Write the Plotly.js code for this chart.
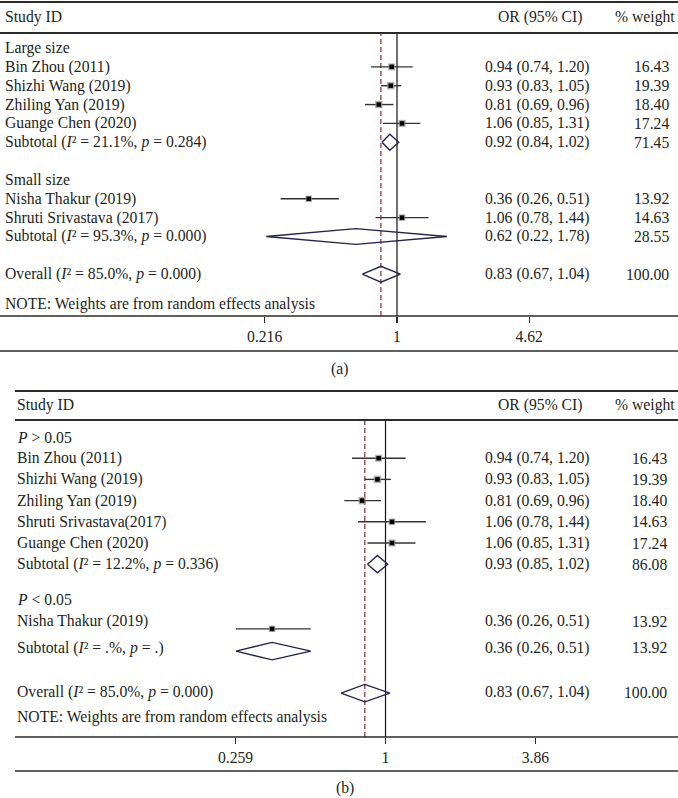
<!DOCTYPE html>
<html><head><meta charset="utf-8">
<script src="https://cdn.plot.ly/plotly-3.0.1.min.js"></script>
<style>html,body{margin:0;padding:0;background:#fff}</style>
</head><body><div id="chart" style="width:678px;height:798px"></div>
<script>
// ---------------- DATA: panel (a) ----------------
const groupA = ['Large size', 'Small size'];
const studyA = ['Bin Zhou (2011)', 'Shizhi Wang (2019)', 'Zhiling Yan (2019)', 'Guange Chen (2020)', 'Nisha Thakur (2019)', 'Shruti Srivastava (2017)'];
const orA = [0.94, 0.93, 0.81, 1.06, 0.36, 1.06];
const loA = [0.74, 0.83, 0.69, 0.85, 0.26, 0.78];
const hiA = [1.20, 1.05, 0.96, 1.31, 0.51, 1.44];
const wA  = [16.43, 19.39, 18.40, 17.24, 13.92, 14.63];
const subLabelA = ['Subtotal (<i>I</i>² = 21.1%, <i>p</i> = 0.284)', 'Subtotal (<i>I</i>² = 95.3%, <i>p</i> = 0.000)', 'Overall (<i>I</i>² = 85.0%, <i>p</i> = 0.000)'];
const subOrA = [0.92, 0.62, 0.83];
const subLoA = [0.84, 0.22, 0.67];
const subHiA = [1.02, 1.78, 1.04];
const subWA  = [71.45, 28.55, 100.00];
const tickValsA = [0.216, 1, 4.62];
const tickTextA = ['0.216', '1', '4.62'];

// ---------------- DATA: panel (b) ----------------
const groupB = ['<i>P</i> &gt; 0.05', '<i>P</i> &lt; 0.05'];
const studyB = ['Bin Zhou (2011)', 'Shizhi Wang (2019)', 'Zhiling Yan (2019)', 'Shruti Srivastava(2017)', 'Guange Chen (2020)', 'Nisha Thakur (2019)'];
const orB = [0.94, 0.93, 0.81, 1.06, 1.06, 0.36];
const loB = [0.74, 0.83, 0.69, 0.78, 0.85, 0.26];
const hiB = [1.20, 1.05, 0.96, 1.44, 1.31, 0.51];
const wB  = [16.43, 19.39, 18.40, 14.63, 17.24, 13.92];
const subLabelB = ['Subtotal (<i>I</i>² = 12.2%, <i>p</i> = 0.336)', 'Subtotal (<i>I</i>² = .%, <i>p</i> = .)', 'Overall (<i>I</i>² = 85.0%, <i>p</i> = 0.000)'];
const subOrB = [0.93, 0.36, 0.83];
const subLoB = [0.85, 0.26, 0.67];
const subHiB = [1.02, 0.51, 1.04];
const subWB  = [86.08, 13.92, 100.00];
const tickValsB = [0.259, 1, 3.86];
const tickTextB = ['0.259', '1', '3.86'];

const nullOR = 1;
const headers = ['Study ID', 'OR (95% CI)', '% weight'];
const noteText = 'NOTE: Weights are from random effects analysis';
const captions = ['(a)', '(b)'];

// ---------------- LAYOUT (positions, sizes, styles) ----------------
const W = 678, H = 798;
const FONT = 'Liberation Serif, Times New Roman, serif';
const TXT = '#231f20';
const LINE = '#2b2b2b';
const DIAM = '#23234d';
const FS = 15.7;

const PA = {ax:'', textX:3, orX:537, wX:671, lineX0:0, headY:17, topLine:2, headLine:33, axisLine:316, botLine:351, capY:369, capX:339,
  row0:48, sp:18.85, oneX:397, pxPerDec:198.9, domL:0, diamH:0.42,
  groupRows:[0,7], studyText:[1,2,3,4,8,9], studyMark:[1,2,3,4,8,9], subText:[5,10,12], subMark:[5,10,12], noteRow:13.6};
const PB = {ax:'2', textX:15, orX:537, wX:669, lineX0:15, headY:405, topLine:391, headLine:420, axisLine:737, botLine:771, capY:788, capX:345,
  row0:437, sp:21.2, oneX:385.5, pxPerDec:255.6, domL:15, diamH:0.41,
  groupRows:[0,7.65], studyText:[1,2,3,4,5,8.7], studyMark:[1,2,3,4,5,9.05], subText:[6,9.95,12.05], subMark:[6,10.1,12.08], noteRow:13.2};

const py = p => 1 - p / H;
const pxf = p => p / W;
const f2 = v => v.toFixed(2);
const ciText = (o, l, h) => f2(o) + ' (' + f2(l) + ', ' + f2(h) + ')';

const traces = [];
const shapes = [];
const annotations = [];
const layout = {
  width: W, height: H, margin: {l:0, r:0, t:0, b:0},
  paper_bgcolor: '#ffffff', plot_bgcolor: 'rgba(0,0,0,0)', showlegend: false,
  font: {family: FONT, size: FS, color: TXT}
};

function buildPanel(P, groups, studies, ors, los, his, ws, subLabels, subOrs, subLos, subHis, subWs, tv, tt, cap) {
  const xa = 'xaxis' + P.ax, ya = 'yaxis' + P.ax;
  const xr = 'x' + P.ax, yr = 'y' + P.ax;
  const yBot = (P.axisLine - P.row0) / P.sp, yTop = (P.headLine - P.row0) / P.sp;
  layout[xa] = {
    type: 'log', domain: [P.domL / W, 1], anchor: yr,
    range: [(P.domL - P.oneX) / P.pxPerDec, (W - P.oneX) / P.pxPerDec],
    tickvals: tv, ticktext: tt, ticks: 'outside', ticklen: 6, tickwidth: 1.2, tickcolor: LINE,
    showgrid: false, zeroline: false, showline: false, fixedrange: true,
    tickfont: {family: FONT, size: FS, color: TXT}
  };
  layout[ya] = {
    domain: [py(P.axisLine), py(P.headLine)], anchor: xr,
    showticklabels: false, ticks: '', showgrid: false, zeroline: false, showline: false,
    range: [yBot, yTop], fixedrange: true
  };
  // horizontal rules
  [[P.topLine, 2], [P.headLine, 2], [P.axisLine, 1.6], [P.botLine, 1.6]].forEach(([y, w]) => {
    shapes.push({type:'line', xref:'paper', yref:'paper', x0:P.lineX0 / W, x1:1, y0:py(y), y1:py(y), line:{color:LINE, width:w}});
  });
  // null line and overall-estimate dashed line, drawn as traces on the log axis
  traces.push({type:'scatter', mode:'lines', xaxis:xr, yaxis:yr, hoverinfo:'skip',
    x:[nullOR, nullOR], y:[yBot, yTop], line:{color:'#111111', width:1.2}});
  const ov = subOrs[subOrs.length - 1];
  traces.push({type:'scatter', mode:'lines', xaxis:xr, yaxis:yr, hoverinfo:'skip',
    x:[ov, ov], y:[yBot, yTop], line:{color:'#8b2a2a', width:1.2, dash:'5px,3px'}});

  // study CIs with weight boxes
  traces.push({
    type:'scatter', mode:'markers', xaxis:xr, yaxis:yr, x:ors, y:P.studyMark, hoverinfo:'skip',
    marker:{symbol:'square', size:ws.map(w => 1.7 * Math.sqrt(w)), color:'#8a8a8a', line:{width:0}},
    error_x:{type:'data', symmetric:false, array:ors.map((o, i) => his[i] - o), arrayminus:ors.map((o, i) => o - los[i]), width:0, thickness:1.4, color:'#333333'}
  });
  traces.push({
    type:'scatter', mode:'markers', xaxis:xr, yaxis:yr, x:ors, y:P.studyMark, hoverinfo:'skip',
    marker:{symbol:'square', size:4.5, color:'#000000', line:{width:0}}
  });
  // diamonds
  subOrs.forEach((o, i) => {
    const r = P.subMark[i];
    traces.push({
      type:'scatter', mode:'lines', xaxis:xr, yaxis:yr, hoverinfo:'skip',
      x:[subLos[i], o, subHis[i], o, subLos[i]],
      y:[r, r - P.diamH, r, r + P.diamH, r],
      line:{color:DIAM, width:1.4}
    });
  });

  // headers
  const hy = py(P.headY);
  annotations.push({xref:'paper', yref:'paper', x:pxf(P.textX), y:hy, xanchor:'left', yanchor:'middle', text:headers[0], showarrow:false});
  annotations.push({xref:'paper', yref:'paper', x:pxf(P.orX + 3), y:hy, xanchor:'center', yanchor:'middle', text:headers[1], showarrow:false});
  annotations.push({xref:'paper', yref:'paper', x:pxf(677), y:hy, xanchor:'right', yanchor:'middle', text:headers[2], showarrow:false});
  // group labels
  groups.forEach((g, i) => annotations.push({xref:'paper', yref:yr, x:pxf(P.textX), y:P.groupRows[i], xanchor:'left', yanchor:'middle', text:g, showarrow:false}));
  // study rows
  studies.forEach((s, i) => {
    const r = P.studyText[i];
    annotations.push({xref:'paper', yref:yr, x:pxf(P.textX), y:r, xanchor:'left', yanchor:'middle', text:s, showarrow:false});
    annotations.push({xref:'paper', yref:yr, x:pxf(P.orX), y:r, xanchor:'center', yanchor:'middle', text:ciText(ors[i], los[i], his[i]), showarrow:false});
    annotations.push({xref:'paper', yref:yr, x:pxf(P.wX), y:r, xanchor:'right', yanchor:'middle', text:f2(ws[i]), showarrow:false});
  });
  // subtotal rows
  subLabels.forEach((s, i) => {
    const r = P.subText[i];
    annotations.push({xref:'paper', yref:yr, x:pxf(P.textX), y:r, xanchor:'left', yanchor:'middle', text:s, showarrow:false});
    annotations.push({xref:'paper', yref:yr, x:pxf(P.orX), y:r, xanchor:'center', yanchor:'middle', text:ciText(subOrs[i], subLos[i], subHis[i]), showarrow:false});
    annotations.push({xref:'paper', yref:yr, x:pxf(P.wX), y:r, xanchor:'right', yanchor:'middle', text:f2(subWs[i]), showarrow:false});
  });
  annotations.push({xref:'paper', yref:yr, x:pxf(P.textX), y:P.noteRow, xanchor:'left', yanchor:'middle', text:noteText, showarrow:false});
  annotations.push({xref:'paper', yref:'paper', x:pxf(P.capX), y:py(P.capY), xanchor:'center', yanchor:'middle', text:cap, showarrow:false});
}

buildPanel(PA, groupA, studyA, orA, loA, hiA, wA, subLabelA, subOrA, subLoA, subHiA, subWA, tickValsA, tickTextA, captions[0]);
buildPanel(PB, groupB, studyB, orB, loB, hiB, wB, subLabelB, subOrB, subLoB, subHiB, subWB, tickValsB, tickTextB, captions[1]);

layout.shapes = shapes;
layout.annotations = annotations;
Plotly.newPlot('chart', traces, layout, {staticPlot:true, displayModeBar:false});
</script>
</body></html>
